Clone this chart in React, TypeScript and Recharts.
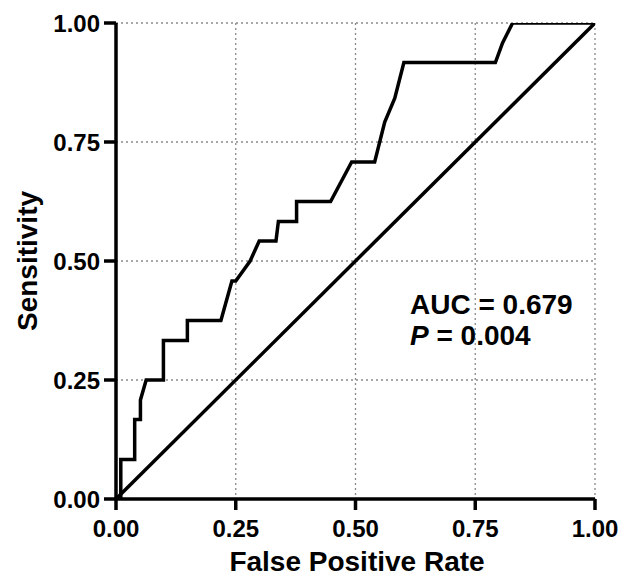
import React from 'react';
import {
  LineChart,
  Line,
  XAxis,
  YAxis,
  CartesianGrid,
  Customized,
} from 'recharts';

// ROC curve (false positive rate, sensitivity)
const rocFpr = [
  0, 0.01, 0.01, 0.039, 0.039, 0.051, 0.051, 0.063, 0.099, 0.099, 0.149, 0.149, 0.219, 0.242,
  0.25, 0.28, 0.299, 0.334, 0.339, 0.377, 0.377, 0.448, 0.492, 0.54, 0.561, 0.582, 0.601, 0.792,
  0.807, 0.828, 1.0,
];
const rocTpr = [
  0, 0, 0.083, 0.083, 0.167, 0.167, 0.208, 0.25, 0.25, 0.333, 0.333, 0.375, 0.375, 0.458,
  0.458, 0.5, 0.542, 0.542, 0.583, 0.583, 0.625, 0.625, 0.708, 0.708, 0.792, 0.842, 0.917, 0.917,
  0.958, 1.0, 1.0,
];

const refFpr = [0, 1];
const refTpr = [0, 1];

const ticks = [0, 0.25, 0.5, 0.75, 1];
const tickLabels = ['0.00', '0.25', '0.50', '0.75', '1.00'];

const aucLabel = 'AUC = 0.679';
const pLabel = ' = 0.004';

const rocData = rocFpr.map((x, i) => ({ x, y: rocTpr[i] }));
const refData = refFpr.map((x, i) => ({ x, y: refTpr[i] }));

const FONT = '"Liberation Sans", Arial, Helvetica, sans-serif';

const fmt = (v: number) => tickLabels[ticks.indexOf(v)] ?? v.toFixed(2);

function Annotations() {
  return (
    <g fontFamily={FONT} fontWeight="bold" fill="#000">
      <text x={402} y={306} fontSize={28}>
        {aucLabel}
      </text>
      <text x={402} y={337} fontSize={28}>
        <tspan fontStyle="italic">P</tspan>
        <tspan>{pLabel}</tspan>
      </text>
      <text x={349} y={563} fontSize={28} textAnchor="middle">
        False Positive Rate
      </text>
      <text x={29} y={253} fontSize={28} textAnchor="middle" transform="rotate(-90, 29, 253)">
        Sensitivity
      </text>
    </g>
  );
}

export default function App() {
  return (
    <div style={{ width: 625, height: 570, background: '#fff', fontFamily: FONT }}>
      <LineChart
        width={625}
        height={570}
        margin={{ top: 15, right: 38, bottom: 0, left: 8 }}
      >
        <CartesianGrid stroke="#8a8a8a" strokeDasharray="2 3" strokeWidth={1.3} />
        <XAxis
          type="number"
          dataKey="x"
          domain={[0, 1]}
          ticks={ticks}
          tickFormatter={fmt}
          height={79}
          axisLine={{ stroke: '#000', strokeWidth: 3.5 }}
          tickLine={{ stroke: '#000', strokeWidth: 3.5 }}
          tickSize={11}
          tickMargin={10}
          tick={{ fill: '#000', fontSize: 24, fontWeight: 'bold', fontFamily: FONT }}
          allowDataOverflow
        />
        <YAxis
          type="number"
          dataKey="y"
          domain={[0, 1]}
          ticks={ticks}
          tickFormatter={fmt}
          width={100}
          axisLine={{ stroke: '#000', strokeWidth: 3.5 }}
          tickLine={{ stroke: '#000', strokeWidth: 3.5 }}
          tickSize={12}
          tickMargin={4}
          tick={{ fill: '#000', fontSize: 24, fontWeight: 'bold', fontFamily: FONT }}
          allowDataOverflow
        />
        <Line
          data={refData}
          dataKey="y"
          type="linear"
          stroke="#000"
          strokeWidth={3.5}
          dot={false}
          activeDot={false}
          isAnimationActive={false}
        />
        <Line
          data={rocData}
          dataKey="y"
          type="linear"
          stroke="#000"
          strokeWidth={3.5}
          strokeLinejoin="miter"
          dot={false}
          activeDot={false}
          isAnimationActive={false}
        />
        <Customized component={<Annotations />} />
      </LineChart>
    </div>
  );
}
